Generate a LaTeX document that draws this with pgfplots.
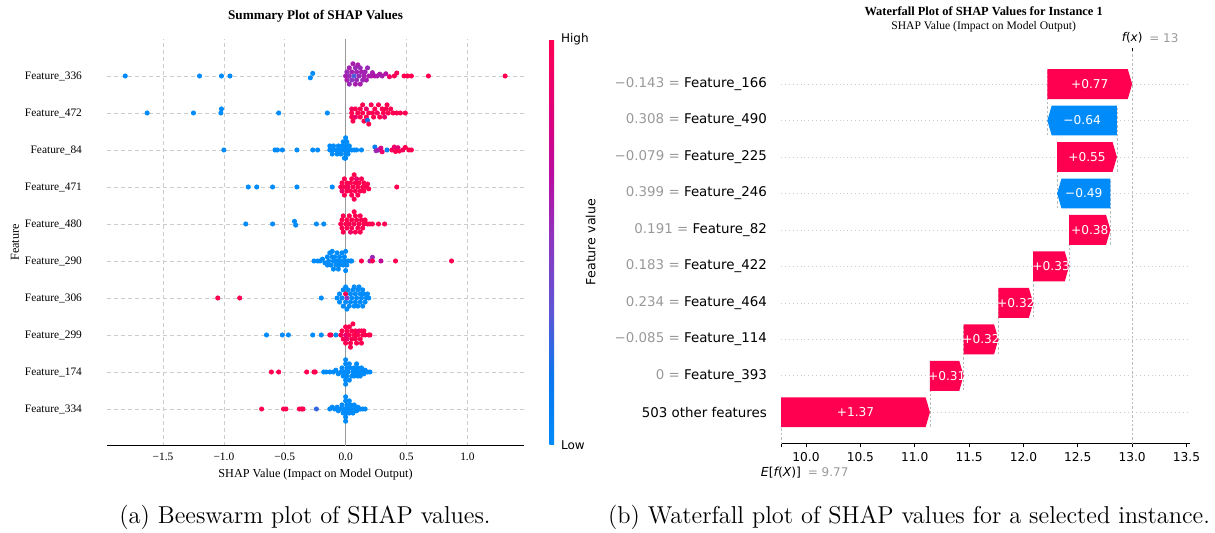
\documentclass[border=0pt]{standalone}
\usepackage{fontspec}
\usepackage{pgfplots}
\pgfplotsset{compat=1.18}
\newfontfamily\timesf{Liberation Serif}
\newfontfamily\dejavu{DejaVu Sans}
\definecolor{shappink}{RGB}{255,0,81}
\definecolor{shapblue}{RGB}{0,139,251}
\definecolor{gridgray}{RGB}{204,204,204}
\definecolor{linegray}{RGB}{187,187,187}
\definecolor{txtgray}{RGB}{153,153,153}
\pgfplotsset{colormap={shap}{rgb255=(0,139,251) rgb255=(10,118,238) rgb255=(95,85,212) rgb255=(140,55,192) rgb255=(185,12,160) rgb255=(226,0,120) rgb255=(255,0,81)}}
\begin{document}
\begin{tikzpicture}
\useasboundingbox (0,0) rectangle (607.5pt,266.5pt);
% ---------------- left: beeswarm ----------------
\begin{axis}[
  at={(53.5pt,43.5pt)}, anchor=south west,
  scale only axis, width=208.5pt, height=203.5pt,
  xmin=-1.96, xmax=1.465, ymin=-1, ymax=10,
  axis x line*=bottom, axis y line*=left,
  y axis line style={draw=none},
  x axis line style={black, line width=0.5pt},
  xtick={-1.5,-1,-0.5,0,0.5,1},
  xticklabels={−1.5,−1.0,−0.5,0.0,0.5,1.0},
  ytick={0,1,2,3,4,5,6,7,8,9},
  yticklabels={Feature\_334,Feature\_174,Feature\_299,Feature\_306,Feature\_290,Feature\_480,Feature\_471,Feature\_84,Feature\_472,Feature\_336},
  tick style={draw=none},
  xmajorgrids, ymajorgrids,
  grid style={gridgray, line width=0.35pt, dash pattern=on 2pt off 1.5pt},
  ticklabel style={font=\timesf\fontsize{5.7}{6}\selectfont},
  yticklabel style={xshift=-9pt},
  xticklabel style={yshift=0pt},
  xlabel={SHAP Value (Impact on Model Output)},
  xlabel style={font=\timesf\fontsize{6.1}{6.5}\selectfont, at={(axis description cs:0.5,-0.071)}, anchor=center},
  ylabel={Feature},
  ylabel style={font=\timesf\fontsize{6.1}{6.5}\selectfont, at={(axis description cs:-0.2206,0.5)}, anchor=center},
  title={Summary Plot of SHAP Values},
  title style={font=\timesf\bfseries\fontsize{6.6}{7}\selectfont, at={(axis description cs:0.5,1.027)}, anchor=center},
  colormap name=shap, point meta min=0, point meta max=1,
  colorbar,
  colorbar style={
    at={(parent axis.north east)}, anchor=north west, xshift=4.15pt,
    scale only axis, width=2.35pt, height=203pt,
    axis line style={draw=none},
    ytick={0,1}, yticklabels={Low,High},
    tick style={draw=none},
    yticklabel style={font=\dejavu\fontsize{6}{6}\selectfont},
    ylabel={Feature value},
    ylabel style={font=\dejavu\fontsize{6.3}{6.3}\selectfont, at={(axis description cs:8.8,0.5)}, anchor=center},
  },
]
\addplot[color=txtgray, line width=0.8pt] coordinates {(0,-1) (0,10)};
\addplot[scatter, only marks, mark=*, mark size=1.05pt, scatter src=explicit,
  scatter/use mapped color={draw=mapped color, fill=mapped color}] table[meta=c] {
x y c
-1.81 9 0
-1.20 9 0
-1.02 9 0
-0.95 9 0
-0.29 8.95 0
-0.27 9.07 0
0.00 9 0.6
0.01 9.11 0.55
0.01 8.89 0.6
0.03 9 0.55
0.03 9.22 0.6
0.03 8.78 0.55
0.05 9.11 0.6
0.05 8.89 0.5
0.06 9.33 0.6
0.07 9 0.3
0.08 9.22 0.55
0.08 8.78 0.6
0.09 9.11 0.58
0.09 8.89 0.55
0.10 9.30 0.6
0.11 9 0.55
0.12 8.78 0.6
0.12 9.22 0.55
0.13 9.11 0.6
0.14 8.89 0.55
0.15 9 0.6
0.16 9.11 0.58
0.17 8.89 0.6
0.18 9.22 0.55
0.19 9 0.6
0.21 9 0.62
0.22 9.09 0.6
0.24 9 0.65
0.26 9 0.6
0.28 9.05 0.62
0.30 9 0.6
0.33 9.06 0.65
0.36 8.98 0.9
0.40 9 1
0.42 9.08 0.95
0.48 9 1
0.51 9 1
0.54 9 1
0.68 9 1
1.31 9 1
-1.63 8 0
-1.25 8 0
-1.02 8.11 0
-1.025 8 0
-0.55 8 0
-0.15 8 0
0.05 8 1
0.05 8.11 0.95
0.05 7.89 1
0.06 7.78 1
0.08 8.11 1
0.08 7.89 0.9
0.10 8 1
0.12 8.11 1
0.12 7.89 1
0.14 8.22 1
0.14 8 1
0.15 7.78 1
0.17 8.11 0.9
0.17 7.89 1
0.18 7.80 0.2
0.19 8 1
0.19 7.70 1
0.21 8.22 1
0.22 8 1
0.23 7.89 1
0.24 8.11 1
0.26 8 0.95
0.27 8.22 1
0.28 7.89 1
0.30 8.11 1
0.31 8 1
0.32 7.89 0.9
0.33 8.11 1
0.34 8.22 1
0.35 8 1
0.37 8.11 1
0.39 8 1
0.42 8 1
0.45 8 1
0.49 8 1
-1.00 7 0
-0.58 7 0
-0.56 7 0
-0.52 7 0
-0.40 7 0
-0.27 7 0
-0.23 7 0
-0.13 7 0
-0.13 7.11 0
-0.11 6.89 0
-0.11 7 0
-0.10 7.11 0
-0.08 7 0
-0.07 6.89 0
-0.06 7.11 0
-0.05 7 0
-0.04 6.89 0
-0.03 7.11 0
-0.02 7 0
-0.02 7.22 0
-0.01 6.78 0
0.00 7 0
0.00 7.11 0
0.00 6.89 0
0.00 7.33 0
0.00 6.78 0
0.01 7.22 0
0.02 7 0
0.02 6.89 0
0.03 7.11 0
0.05 7 0
0.07 7 0
0.09 7 0
0.13 7 0
0.24 7.08 0.1
0.25 6.98 0.55
0.27 7 0.6
0.29 7.05 0.8
0.30 6.95 0.9
0.34 7 0.05
0.38 7 0.95
0.40 7.08 0.9
0.41 6.96 1
0.43 7.06 0.85
0.44 6.97 1
0.47 7 0.95
0.49 7.07 1
0.52 7 1
0.54 7 1
-0.80 6 0
-0.73 6 0
-0.60 6 0
-0.40 6 0
-0.11 6 0
-0.04 6 1
-0.03 6.11 1
-0.03 5.89 0.9
-0.01 6 1
-0.01 6.22 1
-0.01 5.78 1
0.01 6.11 1
0.01 5.89 1
0.02 6 0.95
0.04 6.11 1
0.04 5.89 1
0.05 6.22 1
0.05 5.78 1
0.06 6 1
0.07 6.33 1
0.07 5.67 1
0.08 6.11 1
0.08 5.89 1
0.09 6.22 0.9
0.10 6 1
0.10 5.78 1
0.11 6.11 1
0.12 5.89 1
0.13 6.22 1
0.14 6 1
0.15 6.11 1
0.15 5.89 1
0.17 6 1
0.18 6.08 1
0.19 5.95 1
0.42 6 1
-0.82 5 0
-0.60 5 0
-0.42 5.07 0
-0.41 4.97 0
-0.24 5 0
-0.18 5 0
-0.04 5 1
-0.03 5.11 1
-0.03 4.89 1
-0.02 5.22 1
-0.02 4.78 1
0.00 5 1
0.01 5.11 1
0.01 4.89 1
0.03 5 1
0.03 5.22 1
0.04 4.78 0.9
0.05 5.11 1
0.05 4.89 1
0.07 5 1
0.07 5.33 1
0.08 5.22 1
0.08 4.78 1
0.09 5.11 1
0.10 4.89 1
0.11 5 1
0.12 5.22 1
0.12 4.78 1
0.13 5.11 1
0.14 4.89 1
0.15 5 1
0.16 5.11 1
0.18 5 1
0.20 5 1
0.22 5 1
0.27 5 1
0.32 5 1
-0.26 4 0
-0.23 4 0
-0.21 4 0
-0.19 4.05 0
-0.17 3.95 0
-0.15 4.11 0
-0.15 3.89 0
-0.14 4 0
-0.13 4.22 0
-0.12 3.89 0
-0.11 4.11 0
-0.11 4.26 0
-0.10 4 0
-0.10 3.78 0
-0.09 4.11 0
-0.08 3.89 0
-0.07 4.22 0
-0.07 4 0
-0.06 3.78 0
-0.05 4.11 0
-0.05 3.89 0
-0.04 4 0
-0.03 4.22 0
-0.02 3.89 0
-0.01 4.11 0
-0.01 4 0
0.00 4.26 0
0.00 3.74 0
0.01 3.89 0
0.02 4 0
0.04 4 0
0.05 4 0
0.13 4 1
0.20 4 0.6
0.22 4.1 0.55
0.22 4 1
0.29 4 0.7
0.41 4 1
0.87 4 1
-1.05 3 1
-0.87 3 1
-0.20 3 0
-0.07 3 0
-0.05 3.11 0
-0.05 2.89 0
-0.03 3 0
-0.02 3.22 0
-0.02 2.78 0
0.00 3.11 1
0.00 2.89 0
0.00 3.30 0
0.01 3 0.5
0.01 2.70 0
0.02 3.22 0
0.03 2.78 0
0.04 3.11 0
0.04 2.89 0
0.05 3 0
0.06 3.22 0
0.07 2.78 0
0.07 3.30 0
0.08 3.11 0
0.08 2.89 0
0.09 3 0
0.10 3.22 0
0.10 2.78 0
0.11 3.30 0
0.12 3.11 0
0.12 2.89 0
0.13 3 0
0.14 3.22 0
0.14 2.78 0
0.15 3.11 0
0.16 2.89 0
0.17 3 0
0.18 3.11 0
0.19 3 0
-0.65 2 0
-0.52 2 0
-0.47 2 0
-0.27 2 0
-0.20 2 0
-0.13 2 1
-0.12 2 1
-0.08 2 0
-0.04 2 1
-0.03 2.11 1
-0.02 1.89 1
0.00 2 0.85
0.00 2.22 1
0.00 1.78 1
0.01 2.11 1
0.01 1.89 0.9
0.03 2 1
0.03 2.22 1
0.04 1.78 1
0.04 1.67 1
0.05 2.11 1
0.05 1.89 1
0.06 2.30 1
0.07 2 1
0.08 2.11 1
0.08 1.89 1
0.09 1.78 1
0.10 2 1
0.11 2.11 0.9
0.12 1.89 1
0.13 2.11 1
0.13 1.78 1
0.14 2 1
0.15 2.11 1
0.16 2 1
0.19 2 1
0.20 2 1
-0.61 1 1
-0.55 1 1
-0.32 1 1
-0.26 1 1
-0.25 1 1
-0.18 1 0
-0.16 1 0
-0.13 1 0
-0.10 1 0
-0.08 1.05 0
-0.06 0.95 0
-0.04 1 0
-0.03 1.11 0
-0.02 0.89 0
-0.01 1 0
0.00 1.22 0
0.00 0.78 0
0.00 1.33 0
0.00 0.67 0
0.01 1.11 0
0.01 0.89 0
0.02 1 0
0.03 1.22 0
0.03 0.78 0
0.04 1.11 0
0.05 0.89 0
0.06 1 0
0.07 1.11 0
0.07 0.89 0
0.08 1 0
0.09 1.22 0
0.10 1.11 0
0.10 0.89 0
0.11 1 0
0.12 0.89 0
0.13 1.11 0
0.14 1 0
0.15 0.95 0
0.16 1.05 0
0.18 1 0
0.20 1 0
-0.69 0 1
-0.51 0 1
-0.49 0 1
-0.38 0 1
-0.36 0 1
-0.35 0 1
-0.24 0 0.25
-0.13 0 0
-0.11 0.05 0
-0.09 0 0
-0.07 0.05 0
-0.06 -0.05 0
-0.04 0 0
-0.03 0.11 0
-0.02 -0.11 0
-0.01 0 0
0.00 0.22 0
0.00 -0.22 0
0.00 0.33 0
0.00 -0.33 0
0.01 0.11 0
0.01 -0.11 0
0.02 0 0
0.03 0.22 0
0.03 -0.11 0
0.04 0.11 0
0.05 0 0
0.06 -0.11 0
0.07 0.11 0
0.08 0 0
0.09 -0.05 0
0.10 0.05 0
0.11 0 0
0.12 0 0
0.14 0 0
0.16 0 0
};
\end{axis}
% ---------------- right: waterfall ----------------
\begin{axis}[
  at={(390.5pt,44.5pt)}, anchor=south west,
  scale only axis, width=204.65pt, height=198pt,
  xmin=9.77, xmax=13.535, ymin=-0.87, ymax=9.99,
  axis x line*=bottom, axis y line*=left,
  y axis line style={draw=none},
  x axis line style={black, line width=0.5pt},
  xtick={10,10.5,11,11.5,12,12.5,13,13.5},
  xticklabels={10.0,10.5,11.0,11.5,12.0,12.5,13.0,13.5},
  extra x ticks={9.77}, extra x tick labels={},
  xtick align=outside, major tick length=1.7pt,
  xtick style={black, line width=0.4pt},
  ytick={0,1,2,3,4,5,6,7,8,9},
  ytick style={draw=none},
  yticklabels={
    {503 other features},
    {{\color{txtgray}0 = }Feature\_393},
    {{\color{txtgray}−0.085 = }Feature\_114},
    {{\color{txtgray}0.234 = }Feature\_464},
    {{\color{txtgray}0.183 = }Feature\_422},
    {{\color{txtgray}0.191 = }Feature\_82},
    {{\color{txtgray}0.399 = }Feature\_246},
    {{\color{txtgray}−0.079 = }Feature\_225},
    {{\color{txtgray}0.308 = }Feature\_490},
    {{\color{txtgray}−0.143 = }Feature\_166}},
  ymajorgrids,
  grid style={gridgray, line width=0.35pt, dash pattern=on 0.35pt off 1.6pt},
  xticklabel style={font=\dejavu\fontsize{6.1}{6.1}\selectfont, yshift=1pt},
  yticklabel style={font=\dejavu\fontsize{6.7}{6.7}\selectfont, xshift=-3.5pt},
  clip=false,
]
% connectors and reference lines
\addplot[linegray, line width=0.3pt, dash pattern=on 1.2pt off 1pt] coordinates {(13,-0.87) (13,9.9)};
\addplot[black, line width=0.4pt] coordinates {(13,9.99) (13,9.9)};
\addplot[linegray, line width=0.3pt, dash pattern=on 1.2pt off 1pt] coordinates {(9.77,-0.87) (9.77,0.4)};
\addplot[linegray, line width=0.3pt, dash pattern=on 1.2pt off 1pt] coordinates {(11.14,-0.4) (11.14,1.4)};
\addplot[linegray, line width=0.3pt, dash pattern=on 1.2pt off 1pt] coordinates {(11.45,0.6) (11.45,2.4)};
\addplot[linegray, line width=0.3pt, dash pattern=on 1.2pt off 1pt] coordinates {(11.77,1.6) (11.77,3.4)};
\addplot[linegray, line width=0.3pt, dash pattern=on 1.2pt off 1pt] coordinates {(12.09,2.6) (12.09,4.4)};
\addplot[linegray, line width=0.3pt, dash pattern=on 1.2pt off 1pt] coordinates {(12.42,3.6) (12.42,5.4)};
\addplot[linegray, line width=0.3pt, dash pattern=on 1.2pt off 1pt] coordinates {(12.80,4.6) (12.80,6.4)};
\addplot[linegray, line width=0.3pt, dash pattern=on 1.2pt off 1pt] coordinates {(12.31,5.6) (12.31,7.4)};
\addplot[linegray, line width=0.3pt, dash pattern=on 1.2pt off 1pt] coordinates {(12.86,6.6) (12.86,8.4)};
\addplot[linegray, line width=0.3pt, dash pattern=on 1.2pt off 1pt] coordinates {(12.22,7.6) (12.22,9.4)};
% bars
\addplot[fill=shappink, draw=none] coordinates {(9.77,-0.41) (11.10,-0.41) (11.14,0) (11.10,0.41) (9.77,0.41)};
\addplot[fill=shappink, draw=none] coordinates {(11.14,0.59) (11.41,0.59) (11.45,1) (11.41,1.41) (11.14,1.41)};
\addplot[fill=shappink, draw=none] coordinates {(11.45,1.59) (11.73,1.59) (11.77,2) (11.73,2.41) (11.45,2.41)};
\addplot[fill=shappink, draw=none] coordinates {(11.77,2.59) (12.05,2.59) (12.09,3) (12.05,3.41) (11.77,3.41)};
\addplot[fill=shappink, draw=none] coordinates {(12.09,3.59) (12.38,3.59) (12.42,4) (12.38,4.41) (12.09,4.41)};
\addplot[fill=shappink, draw=none] coordinates {(12.42,4.59) (12.76,4.59) (12.80,5) (12.76,5.41) (12.42,5.41)};
\addplot[fill=shapblue, draw=none] coordinates {(12.80,5.59) (12.35,5.59) (12.31,6) (12.35,6.41) (12.80,6.41)};
\addplot[fill=shappink, draw=none] coordinates {(12.31,6.59) (12.82,6.59) (12.86,7) (12.82,7.41) (12.31,7.41)};
\addplot[fill=shapblue, draw=none] coordinates {(12.86,7.59) (12.26,7.59) (12.22,8) (12.26,8.41) (12.86,8.41)};
\addplot[fill=shappink, draw=none] coordinates {(12.22,8.59) (12.96,8.59) (13.0,9) (12.96,9.41) (12.22,9.41)};
% bar labels
\begin{scope}[every node/.style={text=white, font=\dejavu\fontsize{6.1}{6.1}\selectfont, inner sep=0pt}]
\node at (axis cs:10.455,0) {+1.37};
\node at (axis cs:11.295,1) {+0.31};
\node at (axis cs:11.61,2) {+0.32};
\node at (axis cs:11.93,3) {+0.32};
\node at (axis cs:12.255,4) {+0.33};
\node at (axis cs:12.61,5) {+0.38};
\node at (axis cs:12.555,6) {−0.49};
\node at (axis cs:12.585,7) {+0.55};
\node at (axis cs:12.54,8) {−0.64};
\node at (axis cs:12.61,9) {+0.77};
\end{scope}
% f(x) and E[f(X)] labels
\node[inner sep=0pt, font=\dejavu\fontsize{6}{6}\selectfont] (fx) at (axis cs:13,9.99) [yshift=5pt] {{\itshape f}({\itshape x})};
\node[inner sep=0pt, anchor=west, text=txtgray, font=\dejavu\fontsize{6}{6}\selectfont] at ([xshift=3pt]fx.east) {= 13};
\node[inner sep=0pt, font=\dejavu\fontsize{6.2}{6.2}\selectfont] (ef) at (axis cs:9.77,-0.87) [yshift=-14.3pt] {{\itshape E}[{\itshape f}({\itshape X})]};
\node[inner sep=0pt, anchor=west, text=txtgray, font=\dejavu\fontsize{6}{6}\selectfont] at ([xshift=3pt]ef.east) {= 9.77};
% titles
\node[font=\timesf\bfseries\fontsize{6.2}{6.2}\selectfont, inner sep=0pt] at (rel axis cs:0.495,1) [yshift=18.2pt] {Waterfall Plot of SHAP Values for Instance 1};
\node[font=\timesf\fontsize{5.8}{5.8}\selectfont, inner sep=0pt] at (rel axis cs:0.495,1) [yshift=10.6pt] {SHAP Value (Impact on Model Output)};
\end{axis}
% ---------------- captions ----------------
\node[anchor=base, inner sep=0pt, font=\fontsize{12.2}{14}\selectfont] at (152.5pt,4.5pt) {(a) Beeswarm plot of SHAP values.};
\node[anchor=base, inner sep=0pt, font=\fontsize{12.2}{14}\selectfont] at (454.5pt,4.5pt) {(b) Waterfall plot of SHAP values for a selected instance.};
\end{tikzpicture}
\end{document}
